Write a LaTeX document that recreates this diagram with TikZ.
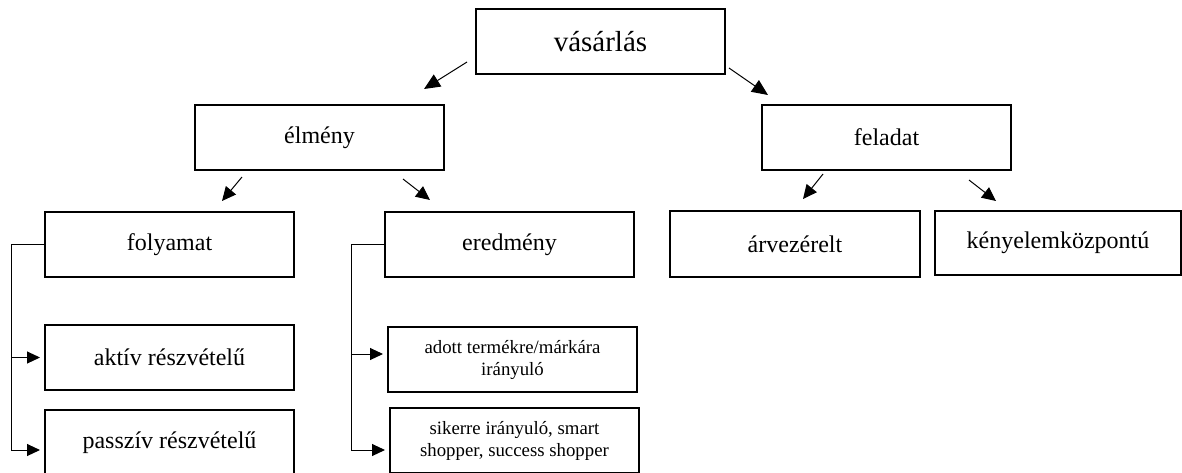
\documentclass[tikz,border=0pt]{standalone}
\usepackage{fontspec}
\setmainfont{Liberation Serif}
\usetikzlibrary{arrows.meta,positioning,calc}

\begin{document}
\begin{tikzpicture}[x=0.5pt,y=-0.5pt,
    box/.style={draw, line width=1pt, minimum width=124.5pt, minimum height=32.5pt,
        inner sep=2pt, font=\fontsize{12}{14}\selectfont},
    smallbox/.style={box, font=\fontsize{9.4}{11}\selectfont, align=center},
    arr/.style={-{Triangle[length=7pt,width=6.5pt]}, line width=0.5pt},
    bigarr/.style={-{Triangle[length=8pt,width=7pt]}, line width=0.5pt},
    side/.style={-{Triangle[length=6.5pt,width=6pt]}, line width=0.5pt, shorten >=2pt}]
    \path[use as bounding box, clip] (0,0) rectangle (1182,472);

    % levels
    \node[box, font=\fontsize{14.5}{17}\selectfont] (vas) at (600.5,41.5) {vásárlás};
    \node[box] (elm) at (319.5,137.5) {élmény};
    \node[box] (fel) at (886.5,137.5) {feladat};
    \node[box] (foly) at (169.5,244.5) {folyamat};
    \node[box] (ered) at (509.5,244.5) {eredmény};
    \node[box, minimum width=125pt, minimum height=33pt] (arv) at (795,244) {árvezérelt};
    \node[box, minimum width=123pt, minimum height=32pt] (kny) at (1058,243) {kényelemközpontú};
    \node[box] (akt) at (169.5,357.5) {aktív részvételű};
    \node[box] (passz) at (169.5,442.5) {passzív részvételű};
    \node[smallbox] (adott) at (512.5,359.5) {adott termékre/márkára\\irányuló};
    \node[smallbox] (siker) at (514.5,440.5) {sikerre irányuló, smart\\shopper, success shopper};

    \draw[bigarr] ($(vas.south west)+(-8,-13)$) -- ($(elm.north east)+(-21,-15)$);
    \draw[bigarr] ($(vas.south east)+(3,-7)$) -- ($(fel.north west)+(7,-9)$);
    \draw[arr] ($(elm.south west)+(48,6)$) -- ($(foly.north east)+(-73,-10)$);
    \draw[arr] ($(elm.south east)+(-42,8)$) -- ($(ered.north west)+(46,-11)$);
    \draw[arr] ($(fel.south west)+(62,3)$) -- ($(arv.north)+(8,-11)$);
    \draw[arr] ($(fel.south east)+(-43,9)$) -- ($(kny.north west)+(62,-9)$);

    % side brackets
    \draw[side] (foly.west) -- ++(-33,0) coordinate (fbar) |- ($(passz.west)+(0,7.5)$);
    \draw[side] (fbar |- akt.west) -- (akt.west);
    \draw[side] (ered.west) -- ++(-33,0) coordinate (ebar) |- ($(siker.west)+(0,9.5)$);
    \draw[side] ($(ebar |- adott.west)+(0,-5.5)$) -- ($(adott.west)+(0,-5.5)$);
\end{tikzpicture}
\end{document}
